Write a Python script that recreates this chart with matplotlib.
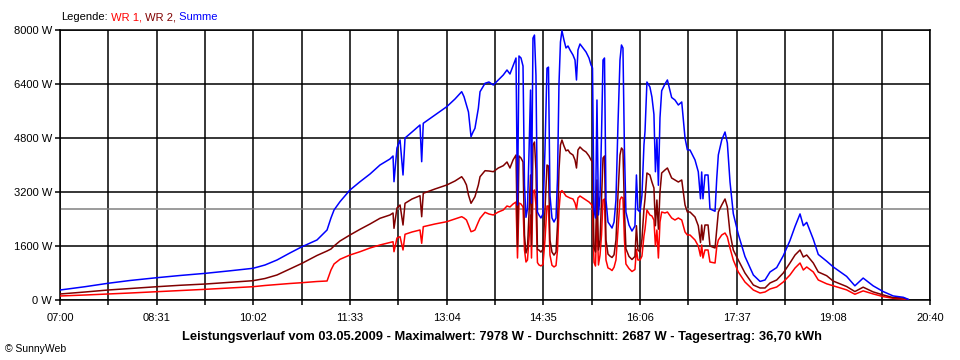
import matplotlib
matplotlib.use('Agg')
import matplotlib.pyplot as plt
from matplotlib.offsetbox import TextArea, HPacker, AnchoredOffsetbox

# Leistungsverlauf 03.05.2009, Zeit in Minuten ab 07:00, Leistung in W
minuten = [0, 23.6, 45.2, 66.0, 91.4, 113.1, 137.3, 160.2, 181.9, 193.2, 204.5, 216.7, 228.1, 242.2,
           251.7, 255.4, 258.3, 263.9, 273.3, 282.8, 292.2, 301.6, 311.0, 313.9, 314.8, 317.6, 320.5,
           323.3, 325.2, 331.8, 339.3, 340.9, 342.4, 353.4, 364.5, 372.3, 378.6, 380.8, 383.1, 385.0,
           387.4, 389.3, 391.1, 394.3, 395.9, 400.6, 404.3, 408.4, 413.1, 417.8,
           421.3, 424.1, 427.0, 429.8, 431.2, 432.6, 434.5, 436.4, 437.8, 439.2, 440.6, 442.0, 443.5,
           444.4, 445.8, 447.2, 448.6, 450.0, 451.4, 453.3, 455.2, 457.1, 459.0, 460.4, 461.8, 463.7,
           465.6, 467.5, 468.9, 470.3, 471.7, 473.1, 475.0, 476.9, 478.8, 480.7, 483.5, 485.4, 486.8,
           488.2, 490.1, 492.9, 495.8, 498.6, 500.5, 501.9, 503.3, 504.7, 506.1, 507.5, 509.0, 510.4,
           511.8, 513.2, 514.6, 516.5, 518.4, 520.3, 522.2, 524.0, 525.9, 527.8, 529.2, 530.6, 532.0,
           533.4, 536.3, 539.1, 541.9, 543.3, 544.7, 546.7, 548.5, 550.4, 551.4, 553.2, 556.0, 557.9,
           559.8, 561.2, 562.6, 564.0, 565.5, 567.1, 570.2, 572.5, 576.5, 579.6, 582.8, 586.0, 589.1,
           591.3, 593.8, 598.5, 601.6, 603.7, 604.8, 606.0, 607.9, 610.8, 612.6, 617.4, 619.0, 620.5,
           623.7, 626.8, 629.0, 631.5, 634.6, 639.3, 645.6, 653.5, 659.8, 664.5, 669.2, 675.5, 681.7,
           688.0, 692.8, 697.5, 700.6, 703.8, 710.0, 714.7, 722.6, 728.8, 741.4, 749.2, 757.0, 766.4,
           775.9, 785.3, 794.8, 799.5]

summe = [296, 394, 495, 578, 661, 726, 791, 865, 939, 1037, 1185, 1393, 1579, 1778,
         2074, 2430, 2667, 2913, 3259, 3505, 3733, 4000, 4178, 4267, 3505, 4504, 4741,
         3704, 4800, 4978, 5185, 4098, 5236, 5482, 5727, 5956, 6172, 6024, 5778, 5570,
         4839, 4978, 5087, 5680, 6172, 6421, 6459, 6370, 6519, 6667,
         6815, 6696, 6933, 7170, 2815, 7230, 7170, 6933, 3400, 2450, 2700, 4300, 6220,
         2870, 7760, 7850, 6660, 2610, 2520, 2430, 2550, 4440, 6870, 6900, 3100, 2430,
         2311, 2430, 3600, 6400, 7645, 7978, 7704, 7467, 7526, 7408, 7259, 7111, 6519,
         7408, 7585, 7467, 7348, 7170, 6963, 6874, 2667, 2430, 5926, 2519, 3100, 4900,
         7111, 7170, 2963, 2311, 2222, 2133, 2311, 2963, 5200, 7111, 7556, 7467, 4444,
         2607, 2222, 2044, 2193, 3704, 2667, 2607, 3100, 4600, 5000, 6459, 6311, 6015,
         5500, 3800, 4800, 3400, 5400, 6200, 6400, 6519, 6000, 5926, 5778, 5867, 4800,
         4450, 4444, 4150, 3800, 3000, 3793, 3000, 3704, 3704, 2700, 2630, 3600, 4300,
         4741, 4978, 4652, 3500, 2560, 1950, 1290, 741, 550, 593, 830, 960, 1310,
         1760, 2180, 2550, 2200, 2300, 1800, 1350, 1150, 980, 700, 420, 650, 420,
         250, 120, 80, 20]

wr2 = [178, 237, 296, 341, 394, 436, 474, 524, 572, 637, 741, 919, 1087, 1319,
       1452, 1511, 1600, 1748, 1926, 2095, 2252, 2421, 2519, 2578, 2124, 2726, 2815,
       2222, 2865, 2993, 3090, 2468, 3162, 3289, 3407, 3526, 3653, 3556, 3407, 3111,
       2865, 2963, 3061, 3407, 3653, 3831, 3822, 3801, 3911, 3979,
       4089, 3911, 4148, 4296, 1580, 4267, 4207, 4089, 1926, 1393, 1541, 2519, 3704,
       1630, 4593, 4681, 3852, 1500, 1480, 1420, 1500, 2667, 4000, 3970, 1778, 1420,
       1330, 1420, 2222, 3852, 4593, 4741, 4563, 4420, 4445, 4356, 4296, 4148, 3911,
       4445, 4533, 4445, 4385, 4267, 4148, 4089, 1550, 1422, 3556, 1482, 1778, 2963,
       4207, 4267, 1778, 1360, 1300, 1260, 1340, 1778, 3111, 4296, 4504, 4445, 2667,
       1520, 1290, 1200, 1290, 2200, 1482, 1422, 1800, 2700, 3000, 3763, 3704, 3496,
       3319, 2200, 2963, 2100, 3200, 3763, 3852, 3911, 3615, 3556, 3496, 3556, 2815,
       2607, 2607, 2459, 2200, 1700, 2222, 1778, 2222, 2222, 1600, 1541, 2074, 2607,
       2815, 2993, 2756, 1985, 1482, 1185, 800, 444, 356, 356, 504, 593, 800,
       1096, 1333, 1482, 1274, 1333, 1096, 830, 720, 560, 400, 250, 380, 240,
       150, 70, 60, 10]

wr1 = [119, 148, 178, 207, 246, 281, 317, 356, 394, 430, 459, 489, 513, 548,
       563, 889, 1067, 1206, 1333, 1431, 1541, 1630, 1704, 1727, 1431, 1837, 1876,
       1482, 1947, 2015, 2074, 1680, 2172, 2252, 2320, 2400, 2468, 2430, 2370, 2222,
       2024, 2044, 2074, 2311, 2421, 2599, 2548, 2519, 2607, 2667,
       2785, 2756, 2844, 2904, 1245, 2874, 2844, 2756, 1482, 1126, 1185, 1778, 2519,
       1244, 3200, 3259, 2815, 1110, 1040, 1010, 1050, 1778, 2785, 2785, 1333, 1030,
       980, 1020, 1482, 2667, 3200, 3240, 3170, 3081, 3052, 3022, 2993, 2874, 2696,
       3022, 3081, 3022, 2963, 2904, 2844, 2785, 1117, 1007, 2519, 1037, 1333, 1926,
       2963, 2993, 1185, 950, 920, 873, 970, 1185, 2089, 2963, 3052, 3022, 1778,
       1067, 932, 844, 903, 1500, 1185, 1185, 1300, 1900, 2100, 2667, 2519, 2489,
       2370, 1600, 2074, 1244, 2311, 2607, 2578, 2607, 2430, 2370, 2430, 2370, 2015,
       1926, 1926, 1778, 1600, 1300, 1630, 1244, 1482, 1482, 1126, 1096, 1570, 1778,
       1926, 1985, 1867, 1541, 1185, 830, 533, 296, 207, 237, 326, 385, 533,
       741, 948, 1096, 889, 978, 830, 593, 480, 420, 300, 170, 270, 180,
       100, 50, 30, 10]

durchschnitt = 2687
zeit_labels = ['07:00', '08:31', '10:02', '11:33', '13:04', '14:35', '16:06', '17:37', '19:08', '20:40']
y_werte = [0, 1600, 3200, 4800, 6400, 8000]

rot = '#ff0000'
dunkelrot = '#800000'
blau = '#0000ff'

plt.rcParams['font.family'] = ['Liberation Sans', 'DejaVu Sans']
plt.rcParams['font.size'] = 8

fig = plt.figure(figsize=(9.6, 3.6), dpi=100)
ax = fig.add_axes([60 / 960, 60 / 360, 870 / 960, 270 / 360])

ax.axhline(durchschnitt, color='#808080', lw=1.1, zorder=2)
ax.plot(minuten, wr1, color=rot, lw=1.1, zorder=3)
ax.plot(minuten, wr2, color=dunkelrot, lw=1.1, zorder=4)
ax.plot(minuten, summe, color=blau, lw=1.1, zorder=5)

ax.set_xlim(0, 820)
ax.set_ylim(0, 8000)
major = [820 * i / 9 for i in range(10)]
minor = [820 * (i + 0.5) / 9 for i in range(9)]
ax.set_xticks(major)
ax.set_xticklabels(zeit_labels)
ax.set_xticks(minor, minor=True)
ax.set_yticks(y_werte)
ax.set_yticklabels([f'{v} W' for v in y_werte])
ax.tick_params(which='both', direction='out', length=3.6, width=1.1, color='black', pad=2)
ax.tick_params(axis='x', pad=6)
ax.grid(which='both', color='black', lw=1.1, zorder=1)
ax.set_axisbelow(True)
for s in ax.spines.values():
    s.set_linewidth(1.1)

teile = [('Legende:', 'black'), (' WR 1,', rot), (' WR 2,', dunkelrot), (' Summe', blau)]
kinder = [TextArea(t, textprops=dict(color=c, fontsize=8)) for t, c in teile]
box = HPacker(children=kinder, align='baseline', pad=0, sep=0)
legende = AnchoredOffsetbox(loc='lower left', child=box, pad=0, borderpad=0, frameon=False,
                            bbox_to_anchor=(61 / 960, 1 - 22 / 360), bbox_transform=fig.transFigure)
fig.add_artist(legende)

fig.text(502 / 960, 1 - 337 / 360,
         'Leistungsverlauf vom 03.05.2009 - Maximalwert: 7978 W - Durchschnitt: 2687 W - Tagesertrag: 36,70 kWh',
         ha='center', va='center', fontsize=9.3, fontweight='bold')
fig.text(5 / 960, 1 - 349 / 360, '© SunnyWeb', ha='left', va='center', fontsize=7.5)

fig.savefig('out.png', dpi=100)
